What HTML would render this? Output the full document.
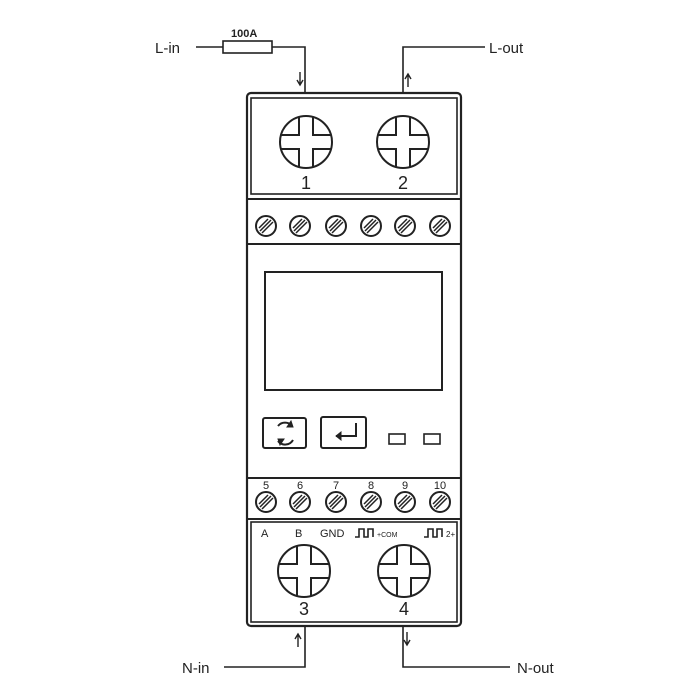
<!DOCTYPE html>
<html><head><style>body{margin:0;background:#fff}svg{display:block}</style></head><body>
<svg width="700" height="700" viewBox="0 0 700 700" xmlns="http://www.w3.org/2000/svg" font-family="Liberation Sans, Arial, sans-serif">
<defs>
<g id="big" stroke="#222" stroke-width="2" fill="none">
<circle r="26"/>
<path d="M-7,-25V-7H-25M7,-25V-7H25M-7,25V7H-25M7,25V7H25"/>
</g>
<g id="sc" stroke="#222" fill="none">
<circle r="10" stroke-width="2"/>
<path d="M-6,5L5,-6M-4,7L7,-4M-7,2L2,-7" stroke-width="1.5"/>
</g>
</defs>
<g stroke="#222" stroke-width="1.6" fill="none">
<!-- wires -->
<path d="M196,47H223M272,47H305V93"/>
<rect x="223" y="41" width="49" height="12"/>
<path d="M403,93V47H485"/>
<path d="M224,667H305V626"/>
<path d="M403,626V667H510"/>
<!-- arrows -->
<path d="M300,72V84M297,80L300,85L303,80" stroke-width="1.4"/>
<path d="M408,87V75M405,79L408,74L411,79" stroke-width="1.4"/>
<path d="M298,647V635M295,639L298,634L301,639" stroke-width="1.4"/>
<path d="M407,632V644M404,640L407,645L410,640" stroke-width="1.4"/>
<!-- body -->
<rect x="247" y="93" width="214" height="533" rx="4" stroke-width="2.2"/>
<rect x="251" y="98" width="206" height="96" stroke-width="1.6"/>
<line x1="247" y1="199" x2="461" y2="199" stroke-width="2"/>
<line x1="247" y1="244" x2="461" y2="244" stroke-width="2"/>
<line x1="247" y1="478" x2="461" y2="478" stroke-width="2"/>
<line x1="247" y1="519" x2="461" y2="519" stroke-width="2"/>
<rect x="251" y="522" width="206" height="100" stroke-width="1.6"/>
<rect x="265" y="272" width="177" height="118" stroke-width="2"/>
<rect x="263" y="418" width="43" height="30" rx="2" stroke-width="2"/>
<rect x="321" y="417" width="45" height="31" rx="2" stroke-width="2"/>
<rect x="389" y="434" width="16" height="10" stroke-width="1.6"/>
<rect x="424" y="434" width="16" height="10" stroke-width="1.6"/>
<path d="M278,426A9,9 0 0 1 292,426M293,440A9,9 0 0 1 278,441" stroke-width="2"/>
<path d="M291,421L293,427L287,427Z" fill="#222" stroke-width="1"/>
<path d="M280,445L278,439L284,439Z" fill="#222" stroke-width="1"/>
<path d="M356,423V436H336" stroke-width="2"/>
<path d="M341,432L336,436L341,440Z" fill="#222" stroke-width="1"/>
</g>
<use href="#big" x="306" y="142"/>
<use href="#big" x="403" y="142"/>
<use href="#big" x="304" y="571"/>
<use href="#big" x="404" y="571"/>
<use href="#sc" x="266" y="226"/><use href="#sc" x="300" y="226"/><use href="#sc" x="336" y="226"/>
<use href="#sc" x="371" y="226"/><use href="#sc" x="405" y="226"/><use href="#sc" x="440" y="226"/>
<use href="#sc" x="266" y="502"/><use href="#sc" x="300" y="502"/><use href="#sc" x="336" y="502"/>
<use href="#sc" x="371" y="502"/><use href="#sc" x="405" y="502"/><use href="#sc" x="440" y="502"/>
<g fill="#222">
<text x="155" y="53" font-size="15">L-in</text>
<text x="231" y="37" font-size="11" font-weight="bold">100A</text>
<text x="489" y="53" font-size="15">L-out</text>
<text x="182" y="673" font-size="15">N-in</text>
<text x="517" y="673" font-size="15">N-out</text>
<text x="306" y="189" font-size="18" text-anchor="middle">1</text>
<text x="403" y="189" font-size="18" text-anchor="middle">2</text>
<text x="304" y="615" font-size="18" text-anchor="middle">3</text>
<text x="404" y="615" font-size="18" text-anchor="middle">4</text>
<g font-size="11" text-anchor="middle">
<text x="266" y="489">5</text><text x="300" y="489">6</text><text x="336" y="489">7</text>
<text x="371" y="489">8</text><text x="405" y="489">9</text><text x="440" y="489">10</text>
</g>
<g font-size="11">
<text x="261" y="537">A</text><text x="295" y="537">B</text><text x="320" y="537">GND</text>
<text x="377" y="537" font-size="7">+COM</text>
<text x="446" y="537" font-size="8">2+</text>
</g>
</g>
<g stroke="#222" stroke-width="1.6" fill="none">
<path d="M355,537H359V529H364V537H368V529H373V537"/>
<path d="M424,537H428V529H433V537H437V529H442V537"/>
</g>
</svg>
</body></html>
